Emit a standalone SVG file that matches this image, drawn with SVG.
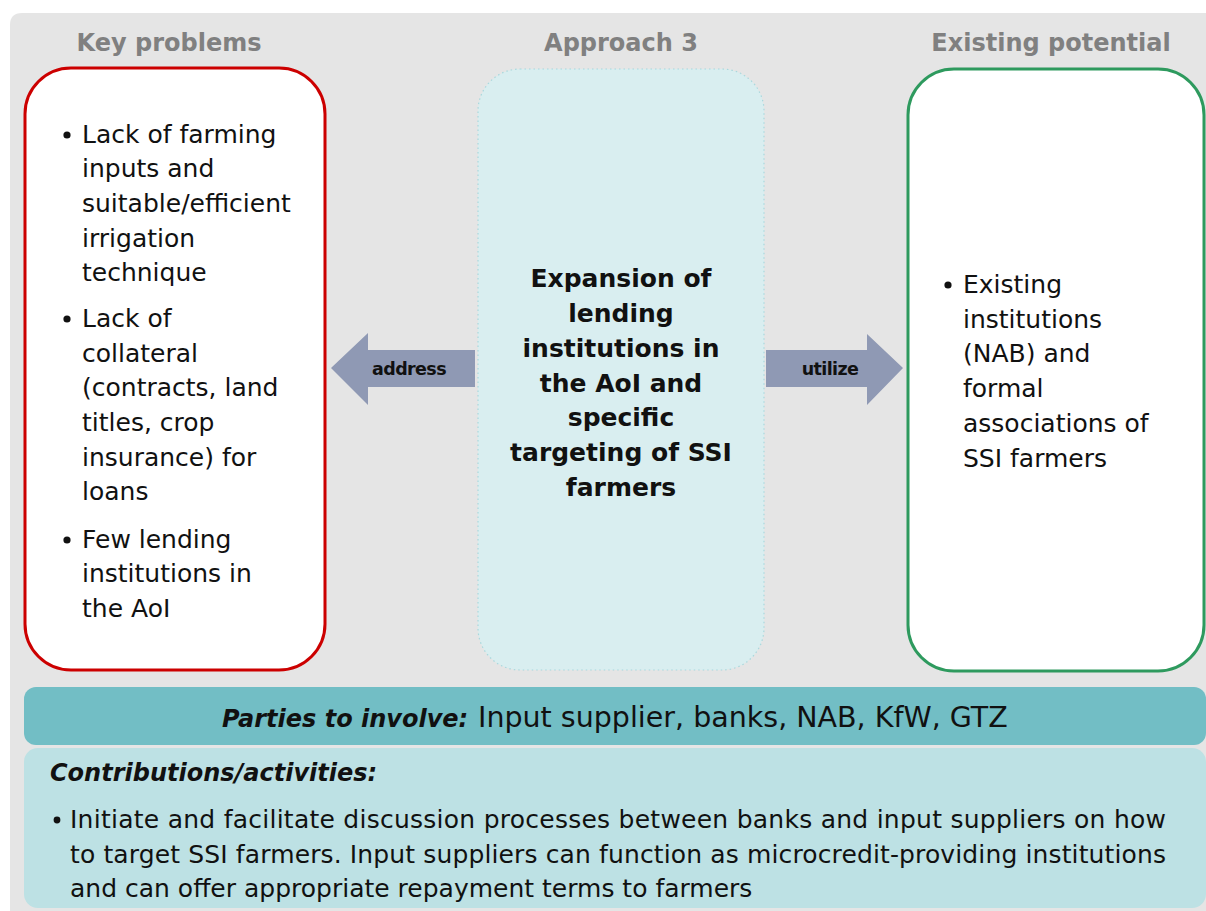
<svg xmlns="http://www.w3.org/2000/svg" width="1206" height="911" viewBox="0 0 1206 911">
  <style>
    .head { font-family: "DejaVu Sans", Verdana, sans-serif; font-weight: bold; font-size: 24px; fill: #808080; text-anchor: middle; }
    .body { font-family: "DejaVu Sans", Verdana, sans-serif; font-size: 25px; fill: #111111; }
    .center { font-family: "DejaVu Sans", Verdana, sans-serif; font-weight: bold; font-size: 25px; fill: #111111; text-anchor: middle; }
    .arrowlabel { font-family: "DejaVu Sans", Verdana, sans-serif; font-weight: bold; font-size: 17.5px; fill: #111111; text-anchor: middle; letter-spacing: -0.6px; }
    .bi { font-family: "DejaVu Sans", Verdana, sans-serif; font-weight: bold; font-style: italic; font-size: 24px; fill: #111111; }
    .arrow { fill: #8f99b4; }
    .dot { fill: #111111; }
  </style>

  <!-- page background -->
  <rect x="0" y="0" width="1206" height="911" fill="#ffffff"/>
  <path d="M10 25 Q10 13 22 13 L1206 13 L1206 911 L10 911 Z" fill="#e5e5e5"/>

  <!-- column headings -->
  <g id="headings">
    <text class="head" x="169" y="51">Key problems</text>
    <text class="head" x="621" y="51">Approach 3</text>
    <text class="head" x="1051" y="51">Existing potential</text>
  </g>

  <!-- key problems -->
  <g id="key-problems">
    <rect x="25" y="68" width="300" height="602" rx="46" ry="46" fill="#ffffff" stroke="#cc0000" stroke-width="3"/>
    <circle class="dot" cx="67" cy="135" r="3.6"/>
    <text class="body" x="82" y="143">Lack of farming</text>
    <text class="body" x="82" y="177">inputs and</text>
    <text class="body" x="82" y="212">suitable/efficient</text>
    <text class="body" x="82" y="247">irrigation</text>
    <text class="body" x="82" y="281">technique</text>
    <circle class="dot" cx="67" cy="319" r="3.6"/>
    <text class="body" x="82" y="327">Lack of</text>
    <text class="body" x="82" y="362">collateral</text>
    <text class="body" x="82" y="396">(contracts, land</text>
    <text class="body" x="82" y="431">titles, crop</text>
    <text class="body" x="82" y="466">insurance) for</text>
    <text class="body" x="82" y="500">loans</text>
    <circle class="dot" cx="67" cy="540" r="3.6"/>
    <text class="body" x="82" y="548">Few lending</text>
    <text class="body" x="82" y="582">institutions in</text>
    <text class="body" x="82" y="617">the AoI</text>
  </g>

  <!-- approach -->
  <g id="approach">
    <rect x="478" y="69" width="286" height="601" rx="42" ry="42" fill="#d9eef0" stroke="#a8d8dd" stroke-width="1.2" stroke-dasharray="1.5 3"/>
    <text class="center" x="621" y="287">Expansion of</text>
    <text class="center" x="621" y="322">lending</text>
    <text class="center" x="621" y="357">institutions in</text>
    <text class="center" x="621" y="392">the AoI and</text>
    <text class="center" x="621" y="426">specific</text>
    <text class="center" x="621" y="461">targeting of SSI</text>
    <text class="center" x="621" y="496">farmers</text>
  </g>

  <!-- existing potential -->
  <g id="existing-potential">
    <rect x="908" y="69" width="296" height="602" rx="46" ry="46" fill="#ffffff" stroke="#2e9a5e" stroke-width="3"/>
    <circle class="dot" cx="948" cy="285" r="3.6"/>
    <text class="body" x="963" y="293">Existing</text>
    <text class="body" x="963" y="328">institutions</text>
    <text class="body" x="963" y="362">(NAB) and</text>
    <text class="body" x="963" y="397">formal</text>
    <text class="body" x="963" y="432">associations of</text>
    <text class="body" x="963" y="467">SSI farmers</text>
  </g>

  <!-- block arrows between the columns -->
  <g id="connectors">
    <g id="arrow-address">
      <polygon class="arrow" points="331,368 368,333 368,350 475,350 475,387 368,387 368,405"/>
      <text class="arrowlabel" x="409" y="375">address</text>
    </g>
    <g id="arrow-utilize">
      <polygon class="arrow" points="766,350 867,350 867,334 903,368 867,405 867,387 766,387"/>
      <text class="arrowlabel" x="830" y="375">utilize</text>
    </g>
  </g>

  <!-- parties band -->
  <g id="parties">
    <rect x="24" y="687" width="1182" height="58" rx="12" ry="12" fill="#72bec5"/>
    <text x="222" y="727"><tspan class="bi">Parties to involve:</tspan><tspan class="body" x="478" style="font-size:28.5px">Input supplier, banks, NAB, KfW, GTZ</tspan></text>
  </g>

  <!-- contributions -->
  <g id="contributions">
    <rect x="24" y="748" width="1182" height="160" rx="14" ry="14" fill="#bde1e4"/>
    <text class="bi" x="50" y="781">Contributions/activities:</text>
    <circle class="dot" cx="57" cy="820" r="3.4"/>
    <text class="body" x="70" y="828" textLength="1096" lengthAdjust="spacing">Initiate and facilitate discussion processes between banks and input suppliers on how</text>
    <text class="body" x="70" y="863" textLength="1096" lengthAdjust="spacing">to target SSI farmers. Input suppliers can function as microcredit-providing institutions</text>
    <text class="body" x="70" y="897">and can offer appropriate repayment terms to farmers</text>
  </g>
</svg>
